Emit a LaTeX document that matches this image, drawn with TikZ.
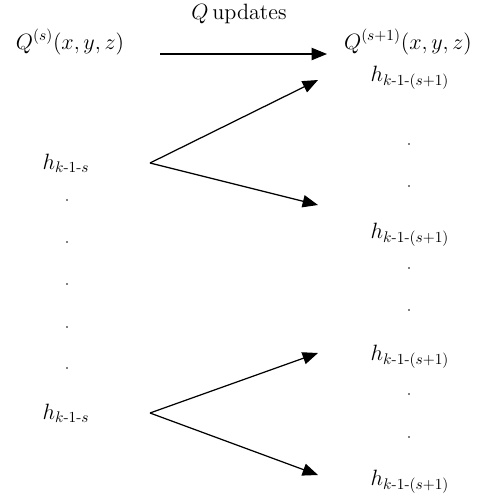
\documentclass[tikz,border=0pt]{standalone}
\usepackage{tikz}
\usetikzlibrary{calc, positioning, arrows.meta}
\usepackage{amsmath,amssymb}

\begin{document}
\begin{tikzpicture}[
    x=0.65pt, y=-0.65pt,
    lbl/.style={inner sep=0pt, font=\Large},
    upd/.style={line width=0.8pt, -{Triangle[length=10pt, width=8pt]}},
    dotmark/.style={fill=black},
  ]
    \useasboundingbox (0,0) rectangle (483,494);
    % top row
    \node[lbl] (qs) at (70, 42) {$Q^{(s)}(x, y, z)$};
    \node[lbl] (qs1) at (408, 42) {$Q^{(s+1)}(x, y, z)$};
    \node[lbl] (qup) at (239, 14) {$Q$\,updates};
    \coordinate (a0) at (160, 54);
    \coordinate (a1) at (327, 54);
    \draw[upd] (a0) -- (a1);
    % left column
    \node[lbl] (hl1) at (66, 163) {$h_{k\text{-}1\text{-}s}$};
    \node[lbl] (hl2) at (66, 413) {$h_{k\text{-}1\text{-}s}$};
    % right column
    \node[lbl] (hr1) at (410, 78) {$h_{k\text{-}1\text{-}(s+1)}$};
    \node[lbl] (hr2) at (410, 235) {$h_{k\text{-}1\text{-}(s+1)}$};
    \node[lbl] (hr3) at (410, 357) {$h_{k\text{-}1\text{-}(s+1)}$};
    \node[lbl] (hr4) at (410, 482) {$h_{k\text{-}1\text{-}(s+1)}$};
    % branching arrows
    \coordinate (p1) at (150, 163);
    \coordinate (p2) at (150, 413);
    \coordinate (t1) at (318, 80);
    \coordinate (t2) at (318, 205);
    \coordinate (t3) at (318, 353);
    \coordinate (t4) at (318, 475);
    \draw[upd] (p1) -- (t1);
    \draw[upd] (p1) -- (t2);
    \draw[upd] (p2) -- (t3);
    \draw[upd] (p2) -- (t4);
    % dots
    \foreach \y in {200, 242, 284, 327, 368}
      \fill[dotmark] (67, \y) circle (0.9);
    \foreach \y in {144, 186, 268, 310, 394, 437}
      \fill[dotmark] (409, \y) circle (0.9);
  \end{tikzpicture}
\end{document}
